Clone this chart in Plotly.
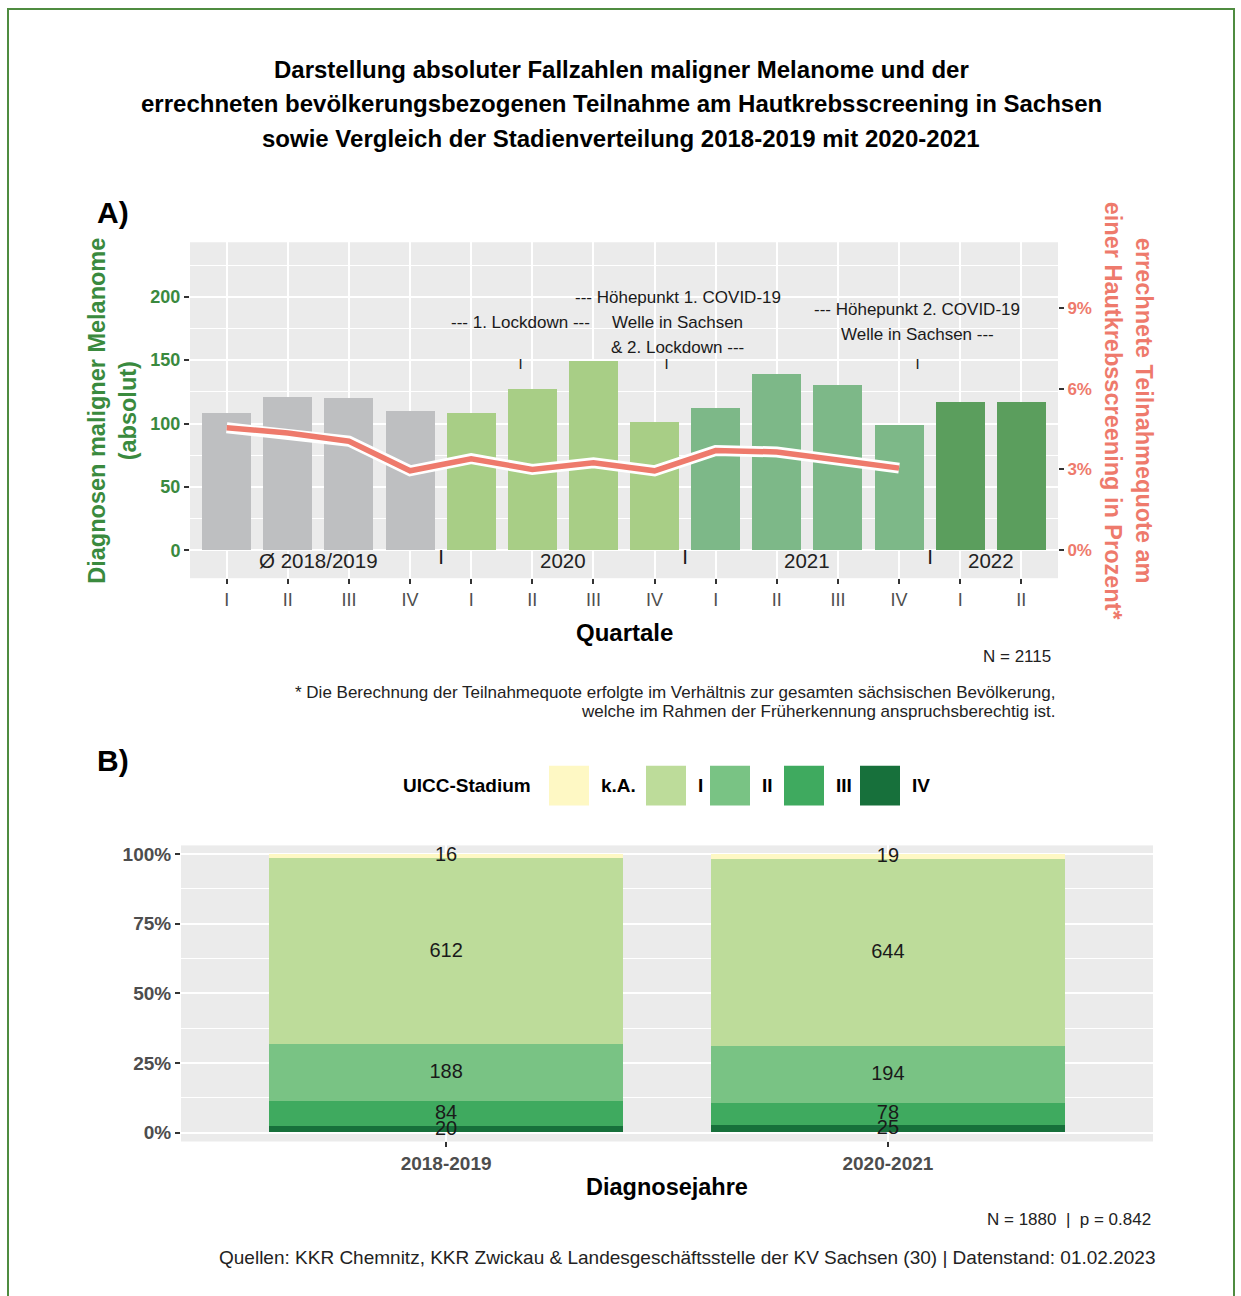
import plotly.graph_objects as go

W, H = 1241, 1296
FONT = "Liberation Sans, Arial, sans-serif"


def px(x):
    return x / W


def py(y):
    return 1 - y / H


# ---------------- Panel A: quarterly melanoma counts + screening rate ----------------
quarters = ["I", "II", "III", "IV", "I", "II", "III", "IV", "I", "II", "III", "IV", "I", "II"]
periods = ["2018/2019"] * 4 + ["2020"] * 4 + ["2021"] * 4 + ["2022"] * 2
melanoma_cases = [108, 121, 120, 110, 108, 127, 149, 101, 112, 139, 130, 99, 117, 117]
screening_rate = [4.55, 4.35, 4.05, 2.95, 3.40, 3.00, 3.25, 2.95, 3.70, 3.65, 3.35, 3.05]
period_colors = {"2018/2019": "#BEBFC1", "2020": "#A8CE86", "2021": "#7DB888", "2022": "#5B9E5D"}
period_labels = ["Ø 2018/2019", "2020", "2021", "2022"]
period_centers = [1.5, 5.5, 9.5, 12.5]
period_breaks = [3.5, 7.5, 11.5]
event_lines = [
    ["--- 1. Lockdown ---"],
    ["--- Höhepunkt 1. COVID-19", "Welle in Sachsen", "& 2. Lockdown ---"],
    ["--- Höhepunkt 2. COVID-19", "Welle in Sachsen ---"],
]
event_pos = [4.8, 7.2, 11.3]
event_text_shift = [0, 11, 0]
count_ticks = [0, 50, 100, 150, 200]
rate_ticks = [0, 3, 6, 9]

# ---------------- Panel B: UICC stage distribution ----------------
diag_years = ["2018-2019", "2020-2021"]
stages = ["IV", "III", "II", "I", "k.A."]
stage_counts = {
    "IV": [20, 25],
    "III": [84, 78],
    "II": [188, 194],
    "I": [612, 644],
    "k.A.": [16, 19],
}
stage_colors = {"k.A.": "#FEF8C4", "I": "#BDDC9A", "II": "#79C384", "III": "#3FAA5F", "IV": "#17703B"}
legend_order = ["k.A.", "I", "II", "III", "IV"]
share_ticks = [0, 25, 50, 75, 100]

SALMON = "#EE7A6C"
GREEN = "#3A8A3E"
AXIS_TXT = "#4D4D4D"

# scaling between absolute counts and screening percentage
RATE_SCALE = 21.26
Y1_RANGE = [-22, 243]

fig = go.Figure()

xs = list(range(len(melanoma_cases)))
fig.add_trace(go.Bar(
    x=xs, y=melanoma_cases, width=0.8,
    marker=dict(color=[period_colors[p] for p in periods], line=dict(width=0)),
    xaxis="x", yaxis="y", showlegend=False, hoverinfo="skip",
))
fig.add_trace(go.Scatter(
    x=xs[:len(screening_rate)], y=screening_rate, mode="lines",
    line=dict(color="white", width=11), xaxis="x", yaxis="y2",
    showlegend=False, hoverinfo="skip",
))
fig.add_trace(go.Scatter(
    x=xs[:len(screening_rate)], y=screening_rate, mode="lines",
    line=dict(color=SALMON, width=5.5), xaxis="x", yaxis="y2",
    showlegend=False, hoverinfo="skip",
))

# stacked percentage bars
totals = [sum(stage_counts[s][i] for s in stages) for i in range(len(diag_years))]
label_x, label_y, label_t = [], [], []
base = [0.0] * len(diag_years)
for s in stages:
    share = [stage_counts[s][i] / totals[i] * 100 for i in range(len(diag_years))]
    fig.add_trace(go.Bar(
        x=[0, 1], y=share, width=0.8,
        marker=dict(color=stage_colors[s], line=dict(width=0)),
        xaxis="x2", yaxis="y3", showlegend=False, hoverinfo="skip",
    ))
    for i in range(len(diag_years)):
        label_x.append(i)
        label_y.append(base[i] + share[i] / 2)
        label_t.append(str(stage_counts[s][i]))
        base[i] += share[i]
fig.add_trace(go.Scatter(
    x=label_x, y=label_y, text=label_t, mode="text",
    textfont=dict(size=20, color="#1A1A1A", family=FONT),
    xaxis="x2", yaxis="y3", showlegend=False, hoverinfo="skip",
))

annotations = []


def note(text, x, y, size, color="#000000", bold=False, xanchor="center", angle=0, xref="paper", yref="paper"):
    if bold:
        text = f"<b>{text}</b>"
    annotations.append(dict(
        text=text, x=x, y=y, xref=xref, yref=yref, xanchor=xanchor, yanchor="middle",
        showarrow=False, textangle=angle, font=dict(size=size, color=color, family=FONT),
    ))


# title
title_lines = [
    "Darstellung absoluter Fallzahlen maligner Melanome und der",
    "errechneten bevölkerungsbezogenen Teilnahme am Hautkrebsscreening in Sachsen",
    "sowie Vergleich der Stadienverteilung 2018-2019 mit 2020-2021",
]
for line, yy in zip(title_lines, [68, 102, 137]):
    note(line, px(621), py(yy), 24, bold=True)

note("A)", px(95), py(211), 30, bold=True, xanchor="left")
note("B)", px(95), py(761), 30, bold=True, xanchor="left")

# panel A axis titles
note("Diagnosen maligner Melanome<br>(absolut)", px(113), py(410), 23.5, GREEN, bold=True, angle=-90)
note("errechnete Teilnahmequote am<br>einer Hautkrebsscreening in Prozent*", px(1128), py(410), 23.5,
     SALMON, bold=True, angle=90)
note("Quartale", px(624), py(632), 24, bold=True)
note("N = 2115", px(1053), py(657), 17, "#222222", xanchor="right")
note("* Die Berechnung der Teilnahmequote erfolgte im Verhältnis zur gesamten sächsischen Bevölkerung,",
     px(1057), py(693), 17, "#222222", xanchor="right")
note("welche im Rahmen der Früherkennung anspruchsberechtig ist.", px(1057), py(712), 17, "#222222",
     xanchor="right")

# period labels inside panel A
for lab, cx in zip(period_labels, period_centers):
    note(lab, cx, -8, 20.5, "#222222", xref="x", yref="y")
for bx in period_breaks:
    note("|", bx, -4, 15, "#1A1A1A", bold=True, xref="x", yref="y")

# pandemic events
for lines, ex, sh in zip(event_lines, event_pos, event_text_shift):
    n = len(lines)
    for k, line in enumerate(lines):
        yy = 180 + (n - 1) / 2 * 19.7 - k * 19.7
        annotations.append(dict(
            text=line, x=ex, y=yy, xref="x", yref="y", xshift=sh, showarrow=False,
            yanchor="middle", font=dict(size=17, color="#1A1A1A", family=FONT),
        ))
    note("|", ex, 148, 11, "#1A1A1A", bold=True, xref="x", yref="y")

# panel B legend
note("UICC-Stadium", px(533), py(786), 19, bold=True, xanchor="right")
legend_boxes = [549, 646, 710, 784, 860]
shapes = []
for s, bx in zip(legend_order, legend_boxes):
    shapes.append(dict(type="rect", xref="paper", yref="paper",
                       x0=px(bx), x1=px(bx + 40), y0=py(806), y1=py(766),
                       fillcolor=stage_colors[s], line=dict(width=0)))
    note(s, px(bx + 50), py(786), 19, bold=True, xanchor="left")

note("Diagnosejahre", px(667), py(1189), 23.5, bold=True)
note("N = 1880  |  p = 0.842", px(1153), py(1221), 17, "#222222", xanchor="right")
note("Quellen: KKR Chemnitz, KKR Zwickau &amp; Landesgeschäftsstelle der KV Sachsen (30) | Datenstand: 01.02.2023",
     px(687), py(1259), 19, "#222222")

# outer frame
shapes.append(dict(type="rect", xref="paper", yref="paper",
                   x0=px(8), x1=px(1234), y0=-0.02, y1=py(7),
                   line=dict(color="#4F8C40", width=2), fillcolor="rgba(0,0,0,0)"))

grid = dict(gridcolor="white", gridwidth=1.6, zeroline=False, showline=False)
minor_grid = dict(showgrid=True, gridcolor="white", gridwidth=0.7, ticks="")
tick_style = dict(ticks="outside", ticklen=5, tickwidth=1.5, tickcolor="#333333")

fig.update_layout(
    width=W, height=H,
    margin=dict(l=0, r=0, t=0, b=0),
    paper_bgcolor="white", plot_bgcolor="#EBEBEB",
    barmode="stack", bargap=0,
    font=dict(family=FONT),
    xaxis=dict(
        domain=[px(190), px(1058)], anchor="y", range=[-0.6, 13.6],
        tickmode="array", tickvals=xs, ticktext=quarters,
        tickfont=dict(size=18, color=AXIS_TXT), **tick_style, **grid,
    ),
    yaxis=dict(
        domain=[py(578), py(241)], anchor="x", range=Y1_RANGE,
        tickmode="array", tickvals=count_ticks, ticktext=[f"<b>{v}</b>" for v in count_ticks],
        tickfont=dict(size=18, color=GREEN),
        minor=dict(tickvals=[25, 75, 125, 175, 225], **minor_grid), **tick_style, **grid,
    ),
    yaxis2=dict(
        overlaying="y", side="right", anchor="x",
        range=[Y1_RANGE[0] / RATE_SCALE, Y1_RANGE[1] / RATE_SCALE],
        tickmode="array", tickvals=rate_ticks, ticktext=[f"<b>{v}%</b>" for v in rate_ticks],
        tickfont=dict(size=17, color=SALMON), **tick_style,
        showgrid=False, zeroline=False, showline=False,
    ),
    xaxis2=dict(
        domain=[px(181), px(1153)], anchor="y3", range=[-0.6, 1.6],
        tickmode="array", tickvals=[0, 1], ticktext=[f"<b>{d}</b>" for d in diag_years],
        tickfont=dict(size=19, color=AXIS_TXT), **tick_style, **grid,
    ),
    yaxis3=dict(
        domain=[py(1143), py(846)], anchor="x2", range=[-3.1, 103.1],
        tickmode="array", tickvals=share_ticks, ticktext=[f"<b>{v}%</b>" for v in share_ticks],
        tickfont=dict(size=19, color=AXIS_TXT),
        minor=dict(tickvals=[12.5, 37.5, 62.5, 87.5], **minor_grid), **tick_style, **grid,
    ),
    annotations=annotations,
    shapes=shapes,
)

fig.write_html("out.html")
